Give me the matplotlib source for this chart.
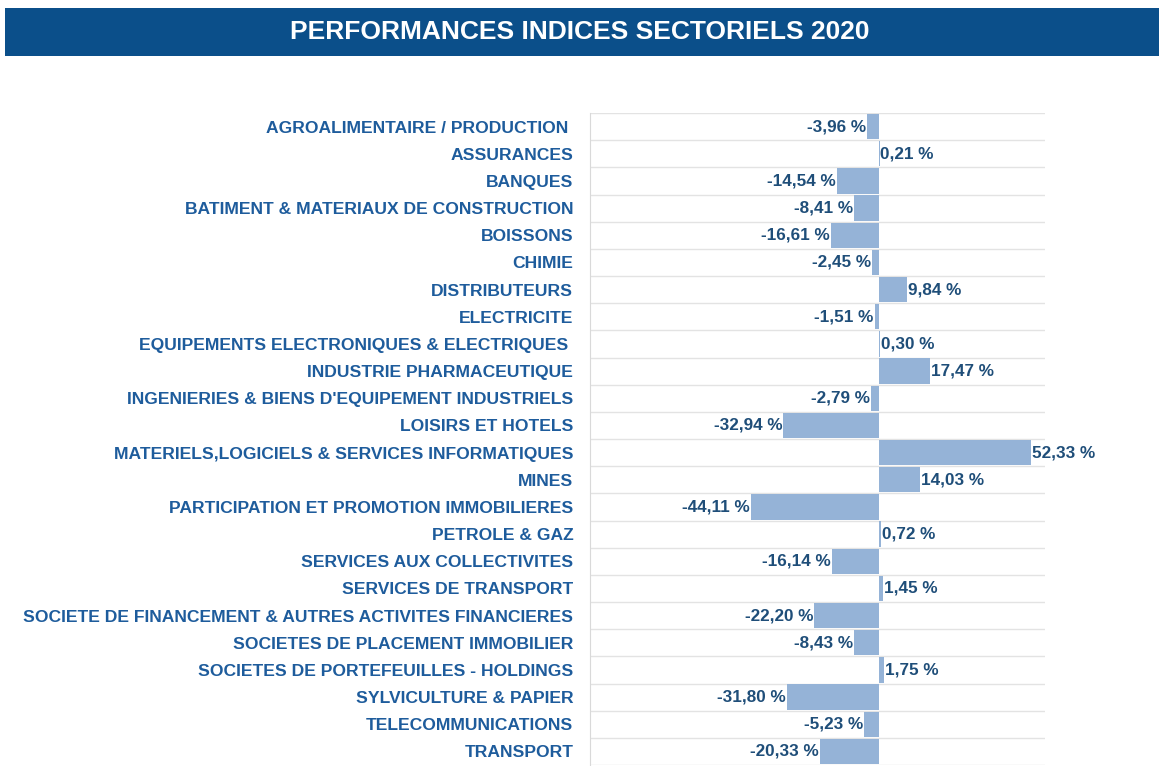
import matplotlib
matplotlib.use("Agg")
import matplotlib.pyplot as plt
from matplotlib.patches import Rectangle

plt.rcParams['font.family'] = ['Liberation Sans', 'DejaVu Sans']

categories = [
    "AGROALIMENTAIRE / PRODUCTION ",
    "ASSURANCES",
    "BANQUES",
    "BATIMENT & MATERIAUX DE CONSTRUCTION",
    "BOISSONS",
    "CHIMIE",
    "DISTRIBUTEURS",
    "ELECTRICITE",
    "EQUIPEMENTS ELECTRONIQUES & ELECTRIQUES ",
    "INDUSTRIE PHARMACEUTIQUE",
    "INGENIERIES & BIENS D'EQUIPEMENT INDUSTRIELS",
    "LOISIRS ET HOTELS",
    "MATERIELS,LOGICIELS & SERVICES INFORMATIQUES",
    "MINES",
    "PARTICIPATION ET PROMOTION IMMOBILIERES",
    "PETROLE & GAZ",
    "SERVICES AUX COLLECTIVITES",
    "SERVICES DE TRANSPORT",
    "SOCIETE DE FINANCEMENT & AUTRES ACTIVITES FINANCIERES",
    "SOCIETES DE PLACEMENT IMMOBILIER",
    "SOCIETES DE PORTEFEUILLES - HOLDINGS",
    "SYLVICULTURE & PAPIER",
    "TELECOMMUNICATIONS",
    "TRANSPORT",
]
values = [-3.96, 0.21, -14.54, -8.41, -16.61, -2.45, 9.84, -1.51, 0.30, 17.47,
          -2.79, -32.94, 52.33, 14.03, -44.11, 0.72, -16.14, 1.45, -22.20,
          -8.43, 1.75, -31.80, -5.23, -20.33]
title = "PERFORMANCES INDICES SECTORIELS 2020"

W, H = 1159, 766
fig = plt.figure(figsize=(W / 100, H / 100), dpi=100)
fig.patch.set_facecolor("white")

# title band
band = Rectangle((5 / W, 1 - 56 / H), (W - 5) / W, 48 / H, transform=fig.transFigure,
                 facecolor="#0b4f8a", edgecolor="none")
fig.patches.append(band)
fig.text(0.5, 1 - 32 / H, title, ha="center", va="center", color="white",
         fontsize=19, fontweight="bold")

left, right, top, bottom = 590, 1045, 113, 765
ax = fig.add_axes([left / W, 1 - bottom / H, (right - left) / W, (bottom - top) / H])
n = len(categories)
ys = list(range(n))
ax.barh(ys, values, height=0.93, color="#95b3d7", edgecolor="none", zorder=2)
ax.set_ylim(n - 0.5, -0.5)
ax.set_xlim(-99.5, 57.2)

for y in range(n + 1):
    ax.axhline(y - 0.5, color="#e3e3e3", lw=1.0, zorder=1)
for s in ["top", "right", "bottom"]:
    ax.spines[s].set_visible(False)
ax.spines["left"].set_color("#d9d9d9")
ax.set_xticks([])
ax.set_yticks(ys)
ax.set_yticklabels(categories, fontsize=12.6, fontweight="bold", color="#1e5c9c")
ax.tick_params(axis="y", length=0, pad=12)

for y, v in zip(ys, values):
    txt = f"{v:.2f}".replace(".", ",") + " %"
    if v < 0:
        ax.text(v - 0.3, y, txt, ha="right", va="center", fontsize=12.3,
                fontweight="bold", color="#1f4e79", zorder=3)
    else:
        ax.text(v + 0.3, y, txt, ha="left", va="center", fontsize=12.3,
                fontweight="bold", color="#1f4e79", zorder=3)

fig.savefig("out.png", dpi=100, facecolor="white")
